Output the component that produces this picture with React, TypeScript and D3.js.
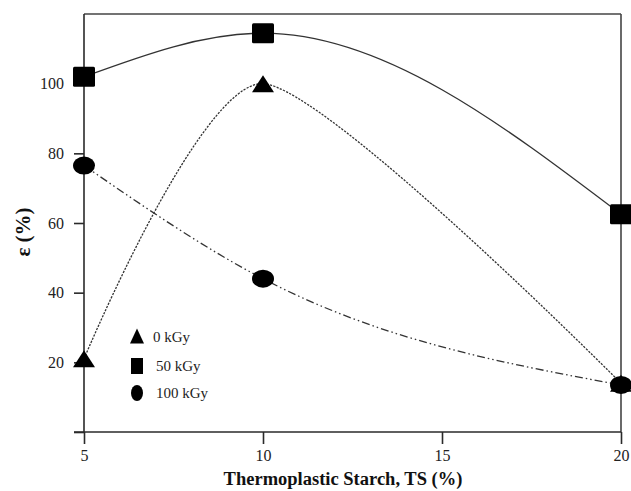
import * as d3 from 'd3';
import { useEffect, useRef } from 'react';

// TS content (%) and elongation at break (%) per dose
const tsLevels = [5, 10, 20];
const gy0 = [21, 100, 14];
const gy50 = [102, 114.5, 62.5];
const gy100 = [76.5, 44, 13.5];

const xTicks = [5, 10, 15, 20];
const yTicks = [0, 20, 40, 60, 80, 100];

const seriesNames = ['0 kGy', '50 kGy', '100 kGy'];

const W = 631;
const H = 491;
const FONT = '"Liberation Serif", "Times New Roman", serif';

export default function App() {
  const ref = useRef<SVGSVGElement>(null);

  useEffect(() => {
    document.body.style.margin = '0';
    const svg = d3.select(ref.current);
    svg.selectAll('*').remove();

    const x = d3.scaleLinear().domain([5, 20]).range([84, 621]);
    const y = d3.scaleLinear().domain([0, 120]).range([432, 14]);

    const ink = '#2a2a2a';

    // frame: top and right
    svg.append('line')
      .attr('x1', x(5)).attr('x2', x(20))
      .attr('y1', y(120)).attr('y2', y(120))
      .attr('stroke', '#444').attr('stroke-width', 1.6);
    svg.append('line')
      .attr('x1', x(20)).attr('x2', x(20))
      .attr('y1', y(120)).attr('y2', y(0))
      .attr('stroke', '#444').attr('stroke-width', 1.6);

    const xAxis = svg.append('g')
      .attr('transform', `translate(0,${y(0)})`)
      .call(d3.axisBottom(x).tickValues(xTicks).tickSize(12).tickSizeOuter(0).tickPadding(6));
    const yAxis = svg.append('g')
      .attr('transform', `translate(${x(5)},0)`)
      .call(d3.axisLeft(y).tickValues(yTicks).tickSize(10).tickSizeOuter(0).tickPadding(10)
        .tickFormat((d) => (d === 0 ? '' : String(d))));

    [xAxis, yAxis].forEach((g) => {
      g.select('.domain').attr('stroke', ink).attr('stroke-width', 1.6);
      g.selectAll('.tick line').attr('stroke', ink).attr('stroke-width', 1.6);
      g.selectAll('.tick text')
        .attr('font-family', FONT).attr('font-size', 16).attr('fill', '#222');
    });
    yAxis.select('.domain').attr('d', `M0,${y(120)}V${y(0)}`);
    xAxis.select('.domain').attr('d', `M${x(5) - 10},0H${x(20)}`);

    const series = [
      { vals: gy0, dash: '2.2,1.3', curve: d3.curveCardinal.tension(0.3) },
      { vals: gy50, dash: null, curve: d3.curveMonotoneX },
      { vals: gy100, dash: '8,3,1.5,3,1.5,3', curve: d3.curveMonotoneX },
    ];

    series.forEach((s) => {
      const pts = tsLevels.map((t, i) => [t, s.vals[i]] as [number, number]);
      const line = d3.line<[number, number]>()
        .x((d) => x(d[0]))
        .y((d) => y(d[1]))
        .curve(s.curve);
      svg.append('path')
        .datum(pts)
        .attr('fill', 'none')
        .attr('stroke', '#333')
        .attr('stroke-width', 1.3)
        .attr('stroke-dasharray', s.dash)
        .attr('d', line);
    });

    const tri = (cx: number, cy: number, w: number, h: number) =>
      `M${cx},${cy - h / 2}L${cx + w / 2},${cy + h / 2}L${cx - w / 2},${cy + h / 2}Z`;

    // markers
    tsLevels.forEach((t, i) => {
      svg.append('path').attr('d', tri(x(t), y(gy0[i]), 22, 17)).attr('fill', '#000');
    });
    tsLevels.forEach((t, i) => {
      svg.append('rect')
        .attr('x', x(t) - 11).attr('y', y(gy50[i]) - 10)
        .attr('width', 22).attr('height', 20).attr('rx', 1.5)
        .attr('fill', '#000');
    });
    tsLevels.forEach((t, i) => {
      svg.append('ellipse')
        .attr('cx', x(t)).attr('cy', y(gy100[i]))
        .attr('rx', 11).attr('ry', 9)
        .attr('fill', '#000');
    });

    // legend
    const lg = svg.append('g').attr('transform', 'translate(137,337)');
    lg.append('path').attr('d', tri(0, -1, 14, 15)).attr('fill', '#000');
    lg.append('rect').attr('x', -6).attr('y', 21).attr('width', 12).attr('height', 16).attr('fill', '#000');
    lg.append('ellipse').attr('cx', 0).attr('cy', 56).attr('rx', 6).attr('ry', 8).attr('fill', '#000');
    seriesNames.forEach((n, i) => {
      lg.append('text')
        .attr('x', i === 0 ? 16 : 19).attr('y', [5, 34, 61][i])
        .attr('font-family', FONT).attr('font-size', 15).attr('fill', '#222')
        .text(n);
    });

    // titles
    svg.append('text')
      .attr('x', 343).attr('y', 485)
      .attr('text-anchor', 'middle')
      .attr('font-family', FONT).attr('font-size', 18.5).attr('font-weight', 'bold')
      .attr('fill', '#111')
      .text('Thermoplastic Starch, TS (%)');
    svg.append('text')
      .attr('transform', 'translate(30,232) rotate(-90)')
      .attr('text-anchor', 'middle')
      .attr('font-family', FONT).attr('font-size', 21).attr('font-weight', 'bold')
      .attr('fill', '#111')
      .text('ε (%)');
  }, []);

  return <svg ref={ref} width={W} height={H} style={{ display: 'block', background: '#fff' }} />;
}
